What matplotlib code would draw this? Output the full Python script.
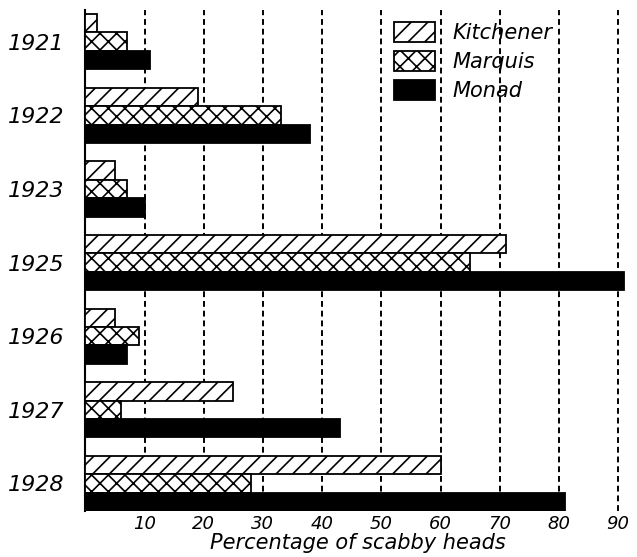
import matplotlib.pyplot as plt
import numpy as np

# data (percentage of scabby heads)
years = ["1921", "1922", "1923", "1925", "1926", "1927", "1928"]
kitchener = [2, 19, 5, 71, 5, 25, 60]
marquis = [7, 33, 7, 65, 9, 6, 28]
monad = [11, 38, 10, 91, 7, 43, 81]
xticks = [10, 20, 30, 40, 50, 60, 70, 80, 90]

plt.rcParams["hatch.linewidth"] = 1.2

fig = plt.figure(figsize=(6.37, 5.57), dpi=100)
ax = fig.add_axes([0.134, 0.0826, 0.855, 0.8994])

y = np.arange(len(years))
h = 0.25
ax.barh(y - h, kitchener, height=h, color="white", edgecolor="black",
        hatch="//", linewidth=1.3, label="Kitchener", zorder=3)
ax.barh(y, marquis, height=h, color="white", edgecolor="black",
        hatch="xx", linewidth=1.3, label="Marquis", zorder=3)
ax.barh(y + h, monad, height=h, color="black", edgecolor="black",
        linewidth=1.3, label="Monad", zorder=3)

ax.set_xlim(0, 92)
ax.set_ylim(6.375, -0.43)

for v in xticks:
    ax.axvline(v, color="black", linewidth=1.4, linestyle=(0, (3, 2)), zorder=1)

ax.set_xticks(xticks)
ax.set_xticklabels([str(v) for v in xticks], fontsize=13, style="italic")
ax.set_yticks(y)
ax.set_yticklabels(years, fontsize=16, style="italic")
ax.tick_params(axis="both", length=0)
ax.tick_params(axis="y", pad=15)
ax.tick_params(axis="x", pad=3)

for s in ["top", "right", "bottom"]:
    ax.spines[s].set_visible(False)
ax.spines["left"].set_linewidth(1.5)

ax.set_xlabel("Percentage of scabby heads", fontsize=15, style="italic", labelpad=0)

ax.legend(loc="upper left", bbox_to_anchor=(0.566, 0.977), frameon=False,
          prop={"style": "italic", "size": 15},
          handlelength=2.0, handleheight=1.1, labelspacing=0.4,
          handletextpad=0.8, borderaxespad=0, borderpad=0)

plt.savefig("out.png")
